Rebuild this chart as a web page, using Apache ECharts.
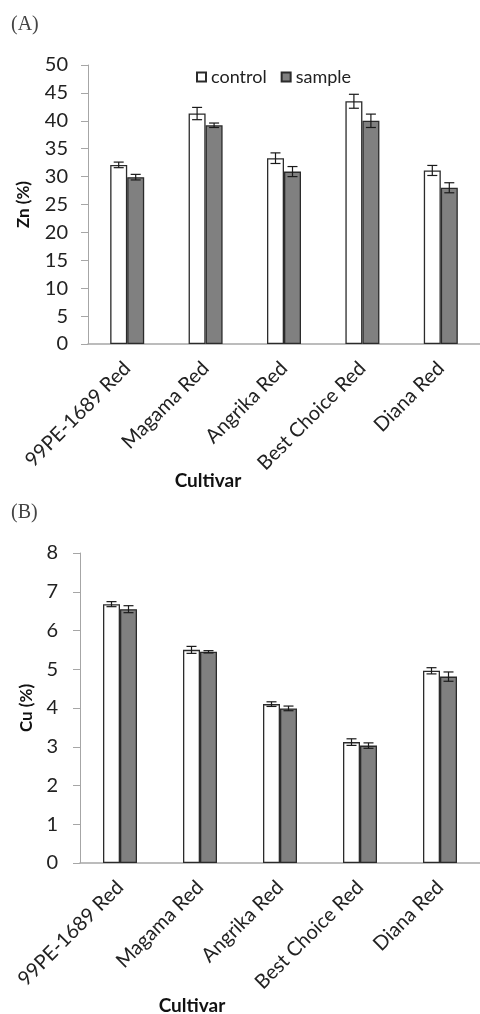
<!DOCTYPE html>
<html>
<head>
<meta charset="utf-8">
<script src="https://cdn.jsdelivr.net/npm/echarts@6/dist/echarts.min.js"></script>
<style>
  html, body { margin: 0; padding: 0; background: #fff; }
  #chart { width: 480px; height: 1014px; }
</style>
</head>
<body>
<div id="chart"></div>
<script>
// cultivars on the x axis
var categories = ["99PE-1689 Red", "Magama Red", "Angrika Red", "Best Choice Red", "Diana Red"];

// panel A: Zn (%)
var znControl = [32.1, 41.3, 33.3, 43.5, 31.1];
var znControlErr = [0.5, 1.1, 0.95, 1.25, 0.9];
var znSample = [29.9, 39.2, 30.9, 40.0, 28.0];
var znSampleErr = [0.5, 0.4, 0.9, 1.2, 0.9];

// panel B: Cu (%)
var cuControl = [6.68, 5.50, 4.10, 3.12, 4.96];
var cuControlErr = [0.065, 0.09, 0.06, 0.085, 0.08];
var cuSample = [6.55, 5.45, 3.99, 3.03, 4.81];
var cuSampleErr = [0.09, 0.03, 0.06, 0.07, 0.12];

var font = "Lato";
var axisGrey = "#a6a6a6";
var barW = 17;

// error bar drawn around the bar centre (offset from category centre)
function errorBars(offset) {
  return function (params, api) {
    var x = api.value(0), v = api.value(1), e = api.value(2);
    var hi = api.coord([x, v + e]);
    var lo = api.coord([x, v - e]);
    var cx = hi[0] + offset;
    var hw = 5;
    var st = { stroke: "#1a1a1a", lineWidth: 1.2 };
    return {
      type: "group",
      children: [
        { type: "line", shape: { x1: cx, y1: hi[1], x2: cx, y2: lo[1] }, style: st },
        { type: "line", shape: { x1: cx - hw, y1: hi[1], x2: cx + hw, y2: hi[1] }, style: st },
        { type: "line", shape: { x1: cx - hw, y1: lo[1], x2: cx + hw, y2: lo[1] }, style: st }
      ]
    };
  };
}

function errData(vals, errs) {
  return vals.map(function (v, i) { return [i, v, errs[i]]; });
}

function xAxisFor(gi) {
  return {
    type: "category",
    gridIndex: gi,
    data: categories,
    axisLine: { lineStyle: { color: axisGrey, width: 1.5 } },
    axisTick: { show: false },
    axisLabel: {
      interval: 0, rotate: 45, margin: 21,
      fontFamily: font, fontSize: 20, color: "#222"
    }
  };
}

function yAxisFor(gi, max, interval, name, gap, margin) {
  return {
    type: "value",
    gridIndex: gi,
    min: 0, max: max, interval: interval,
    name: name,
    nameLocation: "middle",
    nameGap: gap,
    nameTextStyle: { fontFamily: font, fontSize: 17, fontWeight: "bold", color: "#111" },
    axisLine: { show: true, lineStyle: { color: axisGrey, width: 1 } },
    axisTick: { show: true, length: 7, lineStyle: { color: axisGrey } },
    splitLine: { show: false },
    axisLabel: { fontFamily: font, fontSize: 20, color: "#222", margin: margin }
  };
}

function barSeries(name, gi, data, fill) {
  return {
    name: name,
    type: "bar",
    xAxisIndex: gi, yAxisIndex: gi,
    data: data,
    barWidth: barW,
    barGap: "0%",
    itemStyle: { color: fill, borderColor: "#2b2b2b", borderWidth: 1.3 }
  };
}

function errSeries(gi, vals, errs, offset) {
  return {
    type: "custom",
    xAxisIndex: gi, yAxisIndex: gi,
    renderItem: errorBars(offset),
    data: errData(vals, errs),
    z: 5,
    silent: true
  };
}

var chart = echarts.init(document.getElementById("chart"), null, { renderer: "canvas" });

chart.setOption({
  animation: false,
  backgroundColor: "#fff",
  grid: [
    { left: 88, top: 65, width: 397, height: 279 },
    { left: 80, top: 553, width: 404, height: 310 }
  ],
  legend: {
    data: ["control", "sample"],
    left: 191, top: 63,
    icon: "rect",
    itemWidth: 9, itemHeight: 9, itemGap: 14,
    textStyle: { fontFamily: font, fontSize: 18, color: "#222", padding: [0, 0, 0, 0] }
  },
  xAxis: [xAxisFor(0), xAxisFor(1)],
  yAxis: [
    yAxisFor(0, 50, 5, "Zn (%)", 56, 20),
    yAxisFor(1, 8, 1, "Cu (%)", 42, 22)
  ],
  graphic: [
    { type: "text", left: 11, top: 15, style: { text: "(A)", fontFamily: "Liberation Serif", fontSize: 20, fill: "#444" } },
    { type: "text", left: 11, top: 503, style: { text: "(B)", fontFamily: "Liberation Serif", fontSize: 20, fill: "#444" } },
    { type: "text", x: 208, y: 481, style: { text: "Cultivar", fontFamily: font, fontSize: 19, fontWeight: "bold", fill: "#111", align: "center", verticalAlign: "middle" } },
    { type: "text", x: 192, y: 1006, style: { text: "Cultivar", fontFamily: font, fontSize: 19, fontWeight: "bold", fill: "#111", align: "center", verticalAlign: "middle" } }
  ],
  series: [
    barSeries("control", 0, znControl, "#ffffff"),
    barSeries("sample", 0, znSample, "#808080"),
    errSeries(0, znControl, znControlErr, -barW / 2),
    errSeries(0, znSample, znSampleErr, barW / 2),
    barSeries("control", 1, cuControl, "#ffffff"),
    barSeries("sample", 1, cuSample, "#808080"),
    errSeries(1, cuControl, cuControlErr, -barW / 2),
    errSeries(1, cuSample, cuSampleErr, barW / 2)
  ]
});
</script>
</body>
</html>
